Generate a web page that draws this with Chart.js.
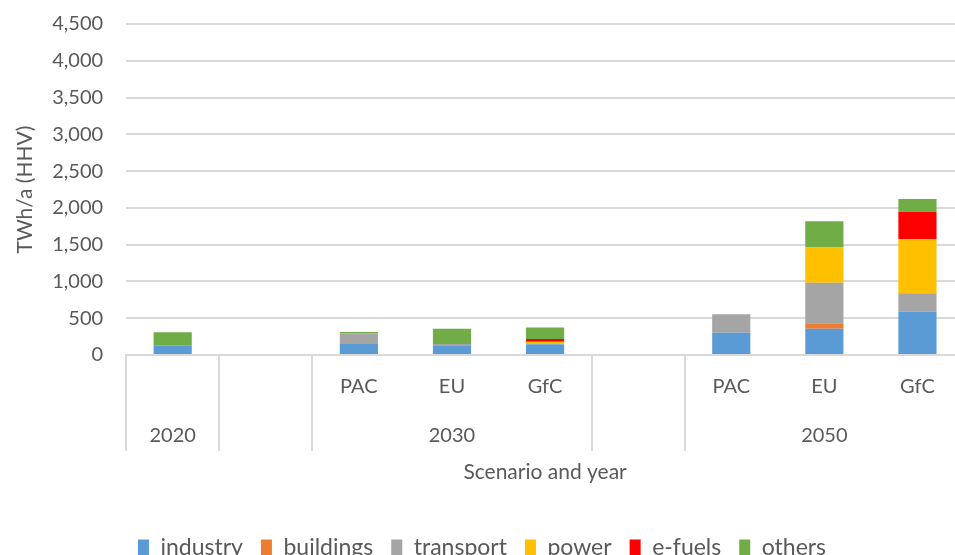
<!DOCTYPE html>
<html>
<head>
<meta charset="utf-8">
<script src="https://cdn.jsdelivr.net/npm/chart.js@4/dist/chart.umd.min.js"></script>
<style>
  html, body { margin: 0; padding: 0; background: #fff; overflow: hidden; }
  #wrap { width: 975px; height: 580px; margin-top: -11px; }
</style>
</head>
<body>
<div id="wrap"><canvas id="grafico"></canvas></div>
<script>
// categorias (escenario) y grupos (año)
const escenarios = ["", "", "PAC", "EU", "GfC", "", "PAC", "EU", "GfC"];
const grupos = [
    { label: "2020", center: 0 },
    { label: "2030", center: 3 },
    { label: "2050", center: 7 },
];
const separadores = [0, 1, 2, 5, 6];

// TWh/a (HHV)
const industry  = [126, 0, 150, 131, 145, 0, 303, 357, 593];
const buildings = [0, 0, 0, 0, 0, 0, 0, 75, 0];
const transport = [0, 0, 145, 19, 0, 0, 250, 550, 245];
const power     = [0, 0, 0, 0, 35, 0, 0, 480, 735];
const efuels    = [0, 0, 0, 0, 36, 0, 0, 0, 375];
const others    = [182, 0, 17, 207, 159, 0, 0, 355, 173];

const yTicks = [0, 500, 1000, 1500, 2000, 2500, 3000, 3500, 4000, 4500];

const textColor = "#595959";
const gridColor = "#d9d9d9";
const fuente = "Lato, 'Open Sans', sans-serif";

const ejeMultinivel = {
    id: "ejeMultinivel",
    afterDraw(chart) {
        const x = chart.scales.x;
        const ctx = chart.ctx;
        const half = (x.getPixelForValue(1) - x.getPixelForValue(0)) / 2;
        ctx.save();
        ctx.strokeStyle = gridColor;
        ctx.lineWidth = 2;
        separadores.forEach((i) => {
            const px = Math.round(x.getPixelForValue(i) - half);
            ctx.beginPath();
            ctx.moveTo(px, x.top);
            ctx.lineTo(px, x.top + 96);
            ctx.stroke();
        });
        ctx.fillStyle = textColor;
        ctx.font = "20px " + fuente;
        ctx.textAlign = "center";
        ctx.textBaseline = "middle";
        grupos.forEach((g) => {
            ctx.fillText(g.label, x.getPixelForValue(g.center), x.top + 81);
        });
        ctx.restore();
    },
};

function serie(label, data, color) {
    return {
        label: label,
        data: data,
        backgroundColor: color,
        borderWidth: 0,
        barPercentage: 0.41,
        categoryPercentage: 1,
    };
}

const ctx = document.getElementById("grafico").getContext("2d");
const chart = new Chart(ctx, {
    type: "bar",
    data: {
        labels: escenarios,
        datasets: [
            serie("industry", industry, "#5b9bd5"),
            serie("buildings", buildings, "#ed7d31"),
            serie("transport", transport, "#a5a5a5"),
            serie("power", power, "#ffc000"),
            serie("e-fuels", efuels, "#ff0000"),
            serie("others", others, "#70ad47"),
        ],
    },
    options: {
        responsive: true,
        maintainAspectRatio: false,
        animation: false,
        layout: { padding: { top: 3, right: 11, left: 0, bottom: 0 } },
        plugins: {
            tooltip: { enabled: false },
            legend: {
                position: "bottom",
                labels: {
                    color: textColor,
                    font: { family: fuente, size: 23 },
                    boxWidth: 11,
                    boxHeight: 16,
                    padding: 18,
                },
            },
        },
        scales: {
            x: {
                stacked: true,
                afterFit(scale) {
                    scale.height = 163;
                },
                grid: { display: false },
                border: { display: true, color: gridColor, width: 2 },
                ticks: {
                    color: textColor,
                    font: { family: fuente, size: 20 },
                    padding: 12,
                    maxRotation: 0,
                    autoSkip: false,
                },
                title: {
                    display: true,
                    text: "Scenario and year",
                    color: textColor,
                    font: { family: fuente, size: 21 },
                    padding: { top: 0, bottom: 33 },
                },
            },
            y: {
                stacked: true,
                min: 0,
                max: 4500,
                afterBuildTicks(scale) {
                    scale.ticks = yTicks.map((v) => ({ value: v }));
                },
                grid: { color: gridColor, lineWidth: 2, drawTicks: false },
                border: { display: false },
                ticks: {
                    color: textColor,
                    font: { family: fuente, size: 20 },
                    padding: 23,
                },
                title: {
                    display: true,
                    text: "TWh/a (HHV)",
                    color: textColor,
                    font: { family: fuente, size: 21 },
                    padding: { top: 13, bottom: -9 },
                },
            },
        },
    },
    plugins: [ejeMultinivel],
});
</script>
</body>
</html>
